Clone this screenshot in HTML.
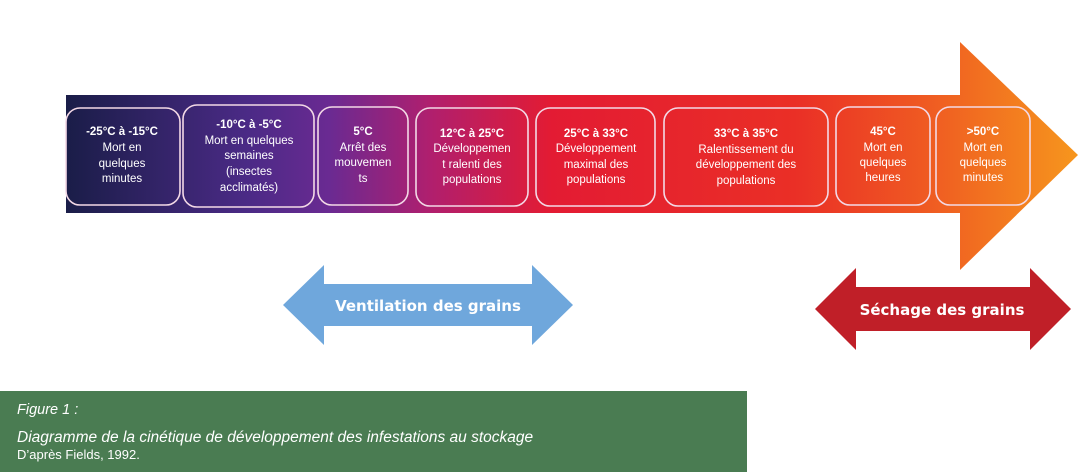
<!DOCTYPE html>
<html><head><meta charset="utf-8"><style>
html,body{margin:0;padding:0;background:#fff;}
body{width:1088px;height:472px;position:relative;overflow:hidden;font-family:"Liberation Sans",sans-serif;}
.cap{position:absolute;left:0;top:391px;width:747px;height:81px;background:#4a7c52;color:#fff;}
.cap div{position:absolute;left:17px;font-size:14.5px;}
</style></head><body>
<svg width="1088" height="472" style="position:absolute;left:0;top:0">
<defs>
<linearGradient id="g" x1="66" y1="0" x2="1078" y2="0" gradientUnits="userSpaceOnUse">
<stop offset="0" stop-color="#1a1d48"/>
<stop offset="0.18" stop-color="#4b2a86"/>
<stop offset="0.26" stop-color="#6a2a92"/>
<stop offset="0.36" stop-color="#b01f6e"/>
<stop offset="0.48" stop-color="#e31b33"/>
<stop offset="0.72" stop-color="#ea2f26"/>
<stop offset="0.85" stop-color="#ef5a22"/>
<stop offset="1" stop-color="#f6961d"/>
</linearGradient>
</defs>
<polygon fill="url(#g)" points="66,95 960,95 960,42 1078,155 960,270 960,213 66,213"/>
<g fill="none" stroke="#f3d9e6" stroke-width="1.6">
<rect x="66" y="108" width="114" height="97" rx="14"/>
<rect x="183" y="105" width="131" height="102" rx="14"/>
<rect x="318" y="107" width="90" height="98" rx="14"/>
<rect x="416" y="108" width="112" height="98" rx="14"/>
<rect x="536" y="108" width="119" height="98" rx="14"/>
<rect x="664" y="108" width="164" height="98" rx="14"/>
<rect x="836" y="107" width="94" height="98" rx="14"/>
<rect x="936" y="107" width="94" height="98" rx="14"/>
</g>
<g fill="#fff" font-family="Liberation Sans,sans-serif" font-size="11.5" text-anchor="middle">
<text x="122" y="135" font-weight="bold">-25°C à -15°C</text>
<text x="122" y="151">Mort en</text><text x="122" y="167">quelques</text><text x="122" y="182">minutes</text>
<text x="249" y="128" font-weight="bold">-10°C à  -5°C</text>
<text x="249" y="144">Mort en quelques</text><text x="249" y="159">semaines</text><text x="249" y="175">(insectes</text><text x="249" y="191">acclimatés)</text>
<text x="363" y="135" font-weight="bold">5°C</text>
<text x="363" y="151">Arrêt des</text><text x="363" y="166">mouvemen</text><text x="363" y="182">ts</text>
<text x="472" y="137" font-weight="bold">12°C à 25°C</text>
<text x="472" y="152">Développemen</text><text x="472" y="168">t ralenti des</text><text x="472" y="183">populations</text>
<text x="596" y="137" font-weight="bold">25°C à 33°C</text>
<text x="596" y="152">Développement</text><text x="596" y="168">maximal des</text><text x="596" y="183">populations</text>
<text x="746" y="137" font-weight="bold">33°C à 35°C</text>
<text x="746" y="153">Ralentissement du</text><text x="746" y="168">développement des</text><text x="746" y="184">populations</text>
<text x="883" y="135" font-weight="bold">45°C</text>
<text x="883" y="151">Mort en</text><text x="883" y="166">quelques</text><text x="883" y="181">heures</text>
<text x="983" y="135" font-weight="bold">&gt;50°C</text>
<text x="983" y="151">Mort en</text><text x="983" y="166">quelques</text><text x="983" y="181">minutes</text>
</g>
<polygon fill="#6fa7dc" points="283,305 324,265 324,284 532,284 532,265 573,305 532,345 532,326 324,326 324,345"/>
<text x="428" y="311" fill="#fff" font-family="DejaVu Sans,sans-serif" font-weight="bold" font-size="15" text-anchor="middle">Ventilation des grains</text>
<polygon fill="#c01f28" points="815,309 856,268 856,287 1030,287 1030,268 1071,309 1030,350 1030,331 856,331 856,350"/>
<text x="942" y="315" fill="#fff" font-family="DejaVu Sans,sans-serif" font-weight="bold" font-size="15" text-anchor="middle">Séchage des grains</text>
</svg>
<div class="cap">
<div style="top:11px;font-style:italic;">Figure 1 :</div>
<div style="top:38px;font-style:italic;font-size:15.5px;">Diagramme de la cinétique de développement des infestations au stockage</div>
<div style="top:56px;font-size:13px;">D’après Fields, 1992.</div>
</div>
</body></html>
